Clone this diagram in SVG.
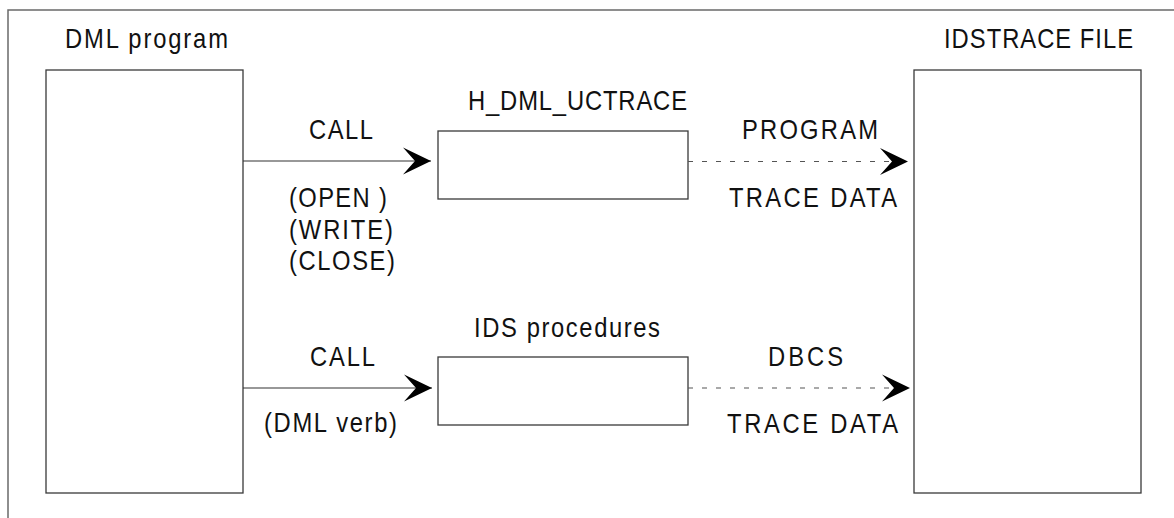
<svg xmlns="http://www.w3.org/2000/svg" width="1174" height="518" viewBox="0 0 1174 518">
  <style>
    .box { fill: #ffffff; stroke: #3a3a3a; stroke-width: 1.3; }
    .frame { fill: none; stroke: #6a6a6a; stroke-width: 1.5; }
    .solid { fill: none; stroke: #333333; stroke-width: 1.2; }
    .dotted { fill: none; stroke: #555555; stroke-width: 1.1; stroke-dasharray: 5 9; }
    text { font-family: "Liberation Sans", Arial, sans-serif; font-size: 27px; fill: #111111; }
  </style>
  <defs>
    <marker id="arrow" markerUnits="userSpaceOnUse" markerWidth="32" markerHeight="32" viewBox="-30 -16 32 32" refX="0" refY="0" orient="auto">
      <path d="M0,0 L-28,-13.5 L-16,0 L-28,13.5 Z" fill="#000000" stroke="none"/>
    </marker>
  </defs>

  <rect width="1174" height="518" fill="#ffffff"/>

  <g id="frame">
    <path class="frame" d="M8,518 L8,10 L1174,10"/>
  </g>

  <g id="node-dml-program">
    <rect class="box" x="46" y="70" width="197" height="423"/>
    <text transform="scale(0.88 1)" x="73.86" y="48.5" textLength="185.23" lengthAdjust="spacing">DML program</text>
  </g>

  <g id="node-idstrace-file">
    <rect class="box" x="914" y="70" width="227" height="423"/>
    <text transform="scale(0.88 1)" x="1072.73" y="48.5" textLength="214.77" lengthAdjust="spacing">IDSTRACE FILE</text>
  </g>

  <g id="node-h-dml-uctrace">
    <rect class="box" x="438" y="131" width="250" height="68"/>
    <text transform="scale(0.88 1)" x="531.82" y="110.5" textLength="248.86" lengthAdjust="spacing">H_DML_UCTRACE</text>
  </g>

  <g id="node-ids-procedures">
    <rect class="box" x="438" y="357" width="250" height="68"/>
    <text transform="scale(0.88 1)" x="538.64" y="337" textLength="211.36" lengthAdjust="spacing">IDS procedures</text>
  </g>

  <g id="connectors">
    <line class="solid" x1="243" y1="161" x2="431" y2="161" marker-end="url(#arrow)"/>
    <line class="dotted" x1="688" y1="161.5" x2="908" y2="161.5" marker-end="url(#arrow)"/>
    <line class="solid" x1="243" y1="388" x2="432" y2="388" marker-end="url(#arrow)"/>
    <line class="dotted" x1="688" y1="388" x2="910" y2="388" marker-end="url(#arrow)"/>
  </g>

  <g id="connector-labels">
    <text transform="scale(0.88 1)" x="351.14" y="139" textLength="72.73" lengthAdjust="spacing">CALL</text>
    <text transform="scale(0.88 1)" x="328.41" y="207" textLength="111.36" lengthAdjust="spacing">(OPEN )</text>
    <text transform="scale(0.88 1)" x="328.41" y="239" textLength="118.18" lengthAdjust="spacing">(WRITE)</text>
    <text transform="scale(0.88 1)" x="328.41" y="270.5" textLength="120.45" lengthAdjust="spacing">(CLOSE)</text>
    <text transform="scale(0.88 1)" x="843.18" y="139" textLength="154.55" lengthAdjust="spacing">PROGRAM</text>
    <text transform="scale(0.88 1)" x="828.41" y="207" textLength="190.91" lengthAdjust="spacing">TRACE DATA</text>
    <text transform="scale(0.88 1)" x="352.27" y="366.5" textLength="73.86" lengthAdjust="spacing">CALL</text>
    <text transform="scale(0.88 1)" x="300" y="432" textLength="151.14" lengthAdjust="spacing">(DML verb)</text>
    <text transform="scale(0.88 1)" x="872.73" y="366.5" textLength="85.23" lengthAdjust="spacing">DBCS</text>
    <text transform="scale(0.88 1)" x="826.14" y="433" textLength="194.32" lengthAdjust="spacing">TRACE DATA</text>
  </g>
</svg>
